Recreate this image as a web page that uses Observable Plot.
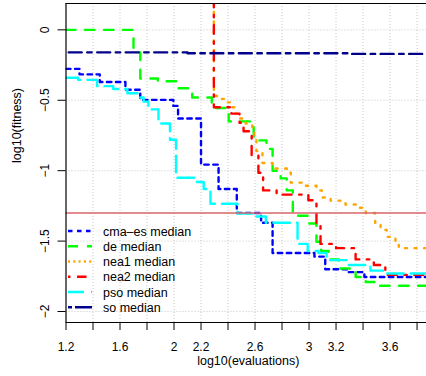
<!DOCTYPE html>
<html><head><meta charset="utf-8">
<script src="https://cdn.jsdelivr.net/npm/d3@7"></script>
<script src="https://cdn.jsdelivr.net/npm/@observablehq/plot@0.6"></script>
<style>
body{margin:0;background:#fff;}
#chart{width:426px;height:376px;overflow:hidden;}
svg{font-family:"Liberation Sans",Arial,Helvetica,sans-serif;}
</style></head><body><div id="chart"></div>
<script>
// ---- data ----
const xTicks = [1.2,1.4,1.6,1.8,2.0,2.2,2.4,2.6,2.8,3.0,3.2,3.4,3.6,3.8];
const xTickLabels = ["1.2","","1.6","","2","2.2","","2.6","","3","3.2","","3.6",""];
const yTicks = [0,-0.5,-1,-1.5,-2];
const yTickLabels = ["0","\u22120.5","\u22121","\u22121.5","\u22122"];
const seriesNames = ["cma\u2013es median","de median","nea1 median","nea2 median","pso median","so median"];
const threshold = -1.3;

const cmaesX = [1.2,1.30,1.45,1.64,1.75,1.995,2.03,2.20,2.33,2.465,2.645,2.73,3.04,3.12,3.28,3.41,3.9];
const cmaesY = [-0.277,-0.316,-0.37,-0.425,-0.497,-0.54,-0.63,-0.957,-1.13,-1.30,-1.37,-1.585,-1.61,-1.70,-1.72,-1.755,-1.76];

const deX = [1.2,1.70,1.75,1.88,2.02,2.135,2.28,2.405,2.59,2.685,2.73,2.79,2.835,2.88,2.99,3.055,3.09,3.145,3.22,3.345,3.42,3.515,3.9];
const deY = [0,-0.16,-0.345,-0.365,-0.415,-0.48,-0.555,-0.65,-0.785,-0.845,-1.0,-1.055,-1.14,-1.32,-1.375,-1.505,-1.57,-1.63,-1.695,-1.755,-1.79,-1.817,-1.82];

const nea1X = [2.295,2.295,2.345,2.38,2.42,2.455,2.49,2.53,2.58,2.595,2.61,2.655,2.73,2.835,2.865,2.975,3.055,3.095,3.16,3.27,3.36,3.42,3.49,3.53,3.575,3.64,3.665,3.9];
const nea1Y = [0.6,-0.47,-0.49,-0.515,-0.55,-0.595,-0.63,-0.665,-0.70,-0.75,-0.86,-0.945,-0.985,-1.015,-1.085,-1.107,-1.14,-1.19,-1.213,-1.24,-1.263,-1.30,-1.37,-1.42,-1.47,-1.50,-1.55,-1.55];

const nea2X = [2.295,2.295,2.425,2.485,2.515,2.575,2.625,2.66,2.76,2.995,3.055,3.085,3.20,3.345,3.48,3.565,3.9];
const nea2Y = [0.6,-0.55,-0.595,-0.66,-0.72,-0.89,-1.015,-1.14,-1.17,-1.21,-1.375,-1.52,-1.55,-1.63,-1.67,-1.74,-1.74];

const psoX = [1.2,1.29,1.43,1.55,1.655,1.73,1.775,1.81,1.885,1.97,2.015,2.15,2.22,2.27,2.47,2.605,2.68,2.915,2.99,3.07,3.13,3.285,3.455,3.55,3.9];
const psoY = [-0.34,-0.355,-0.40,-0.42,-0.45,-0.48,-0.51,-0.565,-0.665,-0.78,-1.05,-1.08,-1.13,-1.235,-1.305,-1.325,-1.37,-1.52,-1.57,-1.585,-1.635,-1.67,-1.71,-1.73,-1.73];

const soX = [1.22,2.1,3.3,3.9];
const soY = [-0.16,-0.166,-0.171,-0.171];

// ---- styles ----
const colors = ["#0000ff","#00ff00","#ffa500","#ff0000","#00ffff","#00008b"];
const chartDash = ["4.5,4.5","9.5,9.5","2,7.5","9,7.5,2.5,7.5","16.5,7","13,5.5,4.5,5.5"];
const legendDash = ["4.5,4.5","10,9","2,3.3","2.4,6.6,9.5,7","16,7","4,3,17,5"];

const xs = [cmaesX,deX,nea1X,nea2X,psoX,soX];
const ys = [cmaesY,deY,nea1Y,nea2Y,psoY,soY];
const rows = seriesNames.map((name,i) => xs[i].map((x,j) => ({series:name, x, y: ys[i][j]})));

const xDomain = [1.2, 3.87];
const yDomain = [-2.078, 0.187];
const font = '"Liberation Sans",Arial,Helvetica,sans-serif';

const plot = Plot.plot({
  width: 426, height: 376,
  marginLeft: 65.5, marginRight: 0, marginTop: 3, marginBottom: 54,
  x: {domain: xDomain},
  y: {domain: yDomain},
  style: {fontFamily: font, fontSize: "12px", background: "white", color: "black"},
  marks: [
    Plot.ruleX(xTicks.slice(1), {stroke: "#c8c8c8", strokeWidth: 1, strokeDasharray: "1,2"}),
    Plot.ruleY(yTicks, {stroke: "#c8c8c8", strokeWidth: 1, strokeDasharray: "1,2"}),
    ...rows.map((r,i) => Plot.line(r, {x: "x", y: "y", curve: "step-after", stroke: colors[i], strokeWidth: 2.4, strokeDasharray: chartDash[i], clip: true})),
    Plot.ruleY([threshold], {stroke: "#d9666a", strokeWidth: 1.6}),
    Plot.ruleX([xDomain[0]], {stroke: "black", strokeWidth: 1.2}),
    Plot.ruleY(yDomain, {stroke: "black", strokeWidth: 1.2}),
    Plot.axisX(xTicks, {tickSize: 8, tickPadding: 12, tickFormat: d => xTickLabels[xTicks.indexOf(d)], label: null, fontSize: 12}),
    Plot.axisY(yTicks, {tickSize: 8, tickFormat: () => "", label: null}),
    Plot.text(yTicks, {x: xDomain[0], y: d => d, text: (d,i) => yTickLabels[i], rotate: -90, dx: -17, textAnchor: "middle", lineAnchor: "bottom", fontSize: 12}),
    Plot.text(["log10(evaluations)"], {frameAnchor: "bottom", dy: 42, dx: 2, fontSize: 12.5}),
    Plot.text(["log10(fitness)"], {frameAnchor: "left", rotate: -90, dx: -49.5, fontSize: 12.5})
  ]
});

const svg = d3.select(plot);
const lg = svg.append("g").attr("font-family", font).attr("font-size", 12.5).attr("text-anchor", "start");
seriesNames.forEach((name,i) => {
  const cy = 231 + i*15.25;
  lg.append("line").attr("x1",68).attr("x2",92).attr("y1",cy).attr("y2",cy)
    .attr("stroke",colors[i]).attr("stroke-width",2.4).attr("stroke-dasharray",legendDash[i]);
  lg.append("text").attr("x",103).attr("y",cy+4.5).attr("fill","black").attr("text-anchor","start").text(name);
});
document.getElementById("chart").appendChild(plot);
</script>
</body></html>
